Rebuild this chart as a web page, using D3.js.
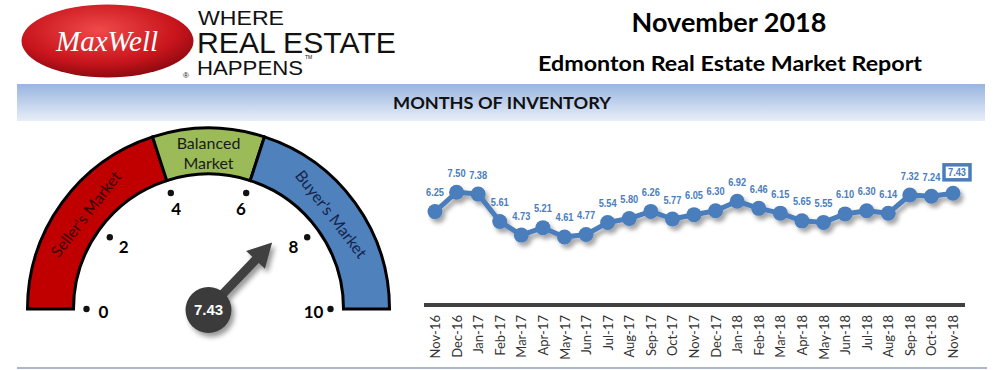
<!DOCTYPE html>
<html><head><meta charset="utf-8">
<script src="https://cdn.jsdelivr.net/npm/d3@7"></script>
<style>
html,body{margin:0;padding:0;background:#fff;}
svg{display:block;}
</style></head>
<body>
<svg id="c" width="1006" height="370"></svg>
<script>
// ---- data ----
const months = ["Nov-16","Dec-16","Jan-17","Feb-17","Mar-17","Apr-17","May-17","Jun-17","Jul-17","Aug-17","Sep-17","Oct-17","Nov-17","Dec-17","Jan-18","Feb-18","Mar-18","Apr-18","May-18","Jun-18","Jul-18","Aug-18","Sep-18","Oct-18","Nov-18"];
const inventory = [6.25,7.50,7.38,5.61,4.73,5.21,4.61,4.77,5.54,5.80,6.26,5.77,6.05,6.30,6.92,6.46,6.15,5.65,5.55,6.10,6.30,6.14,7.32,7.24,7.43];
const gaugeTicks = [0,2,4,6,8,10];
const zoneNames = ["Seller's Market","Balanced Market","Buyer's Market"];
const zoneStarts = [0,4,6];
const zoneEnds = [4,6,10];
const titleLines = ["November 2018","Edmonton Real Estate Market Report"];
const sectionTitle = "MONTHS OF INVENTORY";

const svg = d3.select("#c");
const defs = svg.append("defs");

// shadows
const sh = defs.append("filter").attr("id","shadow").attr("x","-30%").attr("y","-30%").attr("width","160%").attr("height","160%");
sh.append("feDropShadow").attr("dx",3).attr("dy",4).attr("stdDeviation",2).attr("flood-color","#000").attr("flood-opacity",0.35);
const sh2 = defs.append("filter").attr("id","shadow2").attr("x","-30%").attr("y","-30%").attr("width","160%").attr("height","160%");
sh2.append("feDropShadow").attr("dx",3).attr("dy",4).attr("stdDeviation",2.5).attr("flood-color","#000").attr("flood-opacity",0.4);

// ---- header ----
const lg = defs.append("radialGradient").attr("id","logoG").attr("cx","45%").attr("cy","35%").attr("r","65%");
lg.append("stop").attr("offset","0%").attr("stop-color","#ef4a4a");
lg.append("stop").attr("offset","70%").attr("stop-color","#c8141c");
lg.append("stop").attr("offset","100%").attr("stop-color","#8e0a10");
svg.append("ellipse").attr("cx",107.5).attr("cy",41).attr("rx",86).attr("ry",36.5).attr("fill","url(#logoG)");
svg.append("text").attr("x",107).attr("y",51).attr("text-anchor","middle")
  .attr("font-family","Liberation Serif, serif").attr("font-style","italic").attr("font-size",29)
  .attr("fill","#fff").text("MaxWell");
const tag = svg.append("g").attr("font-family","Liberation Sans, Arial, sans-serif").attr("fill","#111");
tag.append("text").attr("x",198).attr("y",25).attr("font-size",21).attr("textLength",86).attr("lengthAdjust","spacingAndGlyphs").text("WHERE");
tag.append("text").attr("x",197).attr("y",53).attr("font-size",30).attr("textLength",199).attr("lengthAdjust","spacingAndGlyphs").text("REAL ESTATE");
tag.append("text").attr("x",197).attr("y",75).attr("font-size",21).attr("textLength",106).attr("lengthAdjust","spacingAndGlyphs").text("HAPPENS");
tag.append("text").attr("x",183).attr("y",78).attr("font-size",8).text("®");
tag.append("text").attr("x",305).attr("y",59).attr("font-size",5).text("TM");

svg.append("text").attr("x",729).attr("y",32).attr("text-anchor","middle")
  .attr("font-family","Lato, sans-serif").attr("font-weight","bold").attr("font-size",27).attr("fill","#000").text(titleLines[0]);
svg.append("text").attr("x",730).attr("y",71).attr("text-anchor","middle")
  .attr("font-family","Lato, sans-serif").attr("font-weight","bold").attr("font-size",20).attr("fill","#000")
  .attr("textLength",384).attr("lengthAdjust","spacingAndGlyphs").text(titleLines[1]);

// band
const bg = defs.append("linearGradient").attr("id","bandG").attr("x1",0).attr("y1",0).attr("x2",0).attr("y2",1);
bg.append("stop").attr("offset","0%").attr("stop-color","#98b4df");
bg.append("stop").attr("offset","100%").attr("stop-color","#e8eef8");
svg.append("rect").attr("x",17).attr("y",84).attr("width",968).attr("height",37).attr("fill","url(#bandG)");
svg.append("text").attr("x",502).attr("y",109).attr("text-anchor","middle")
  .attr("font-family","Lato, sans-serif").attr("font-weight","bold").attr("font-size",17).attr("fill","#111")
  .attr("textLength",218).attr("lengthAdjust","spacingAndGlyphs").text(sectionTitle);
svg.append("line").attr("x1",17).attr("x2",987).attr("y1",368).attr("y2",368).attr("stroke","#a9b8cf").attr("stroke-width",2);

// ---- gauge ----
const gc = {x:208.5, y:309};
const rIn = 135, rOut = 181;
const ang = d3.scaleLinear().domain([0,10]).range([-Math.PI/2, Math.PI/2]);
const zoneFill = ["#c00000","#9bbb59","#4f81bd"];
const zoneText = ["#3b0000","#1b2a10","#15254a"];
const g = svg.append("g").attr("transform",`translate(${gc.x},${gc.y})`);
const arc = d3.arc().innerRadius(rIn).outerRadius(rOut);
zoneNames.forEach((n,i)=>{
  g.append("path").attr("d",arc({startAngle:ang(zoneStarts[i]),endAngle:ang(zoneEnds[i])}))
   .attr("fill",zoneFill[i]).attr("stroke","#000").attr("stroke-width",3).attr("stroke-linejoin","miter");
});
// zone labels
[0,2].forEach(i=>{
  const mid = (zoneStarts[i]+zoneEnds[i])/2;
  const a = ang(mid) + (i===0? 0.03:-0.03);
  const rm = 155;
  const deg = a*180/Math.PI;
  g.append("text").attr("transform",`translate(${rm*Math.sin(a)},${-rm*Math.cos(a)}) rotate(${deg})`)
   .attr("text-anchor","middle").attr("dy","0.35em")
   .attr("font-family","Lato, sans-serif").attr("font-size",16).attr("fill",zoneText[i]).text(zoneNames[i]);
});
const bw = zoneNames[1].split(" ");
g.append("text").attr("x",0).attr("y",-166).attr("text-anchor","middle").attr("dy","0.35em")
  .attr("font-family","Lato, sans-serif").attr("font-size",16).attr("fill","#1a1a1a").text(bw[0]);
g.append("text").attr("x",0).attr("y",-146).attr("text-anchor","middle").attr("dy","0.35em")
  .attr("font-family","Lato, sans-serif").attr("font-size",16).attr("fill","#1a1a1a").text(bw[1]);
// ticks
gaugeTicks.forEach(t=>{
  const a = ang(t);
  g.append("circle").attr("cx",122*Math.sin(a)).attr("cy",-122*Math.cos(a)).attr("r",3.2).attr("fill","#111");
  const rl = 105;
  g.append("text").attr("x",rl*Math.sin(a)).attr("y",-rl*Math.cos(a)+ (Math.abs(t-5)===5?3:0)).attr("dy","0.36em")
   .attr("text-anchor","middle").attr("font-family","Lato, sans-serif").attr("font-weight","bold")
   .attr("font-size",17).attr("fill","#000").text(t);
});
// needle
const cur = inventory[inventory.length-1];
const na = ang(cur);
const needle = g.append("g").attr("filter","url(#shadow2)");
const L = 92, hl = 24, hw = 13, sw = 4.5;
const nPath = d3.path();
nPath.moveTo(0,-sw); nPath.lineTo(L-hl,-sw); nPath.lineTo(L-hl,-hw); nPath.lineTo(L,0);
nPath.lineTo(L-hl,hw); nPath.lineTo(L-hl,sw); nPath.lineTo(0,sw); nPath.closePath();
needle.append("path").attr("d",nPath.toString()).attr("fill","#404040")
  .attr("transform",`rotate(${na*180/Math.PI-90})`);
needle.append("circle").attr("cx",0).attr("cy",1).attr("r",23).attr("fill","#3a3a3a");
g.append("text").attr("x",0).attr("y",1).attr("dy","0.36em").attr("text-anchor","middle")
  .attr("font-family","Liberation Sans, Arial, sans-serif").attr("font-weight","bold").attr("font-size",15)
  .attr("fill","#fff").text(cur.toFixed(2));

// ---- line chart ----
const x = d3.scalePoint().domain(months).range([435, 953]);
const y = d3.scaleLinear().domain([4,8]).range([246.4, 184.5]);
const lineCol = "#4a7dbc";
// axis
const xAxis = d3.axisBottom(x).tickSize(0).tickPadding(0);
const ax = svg.append("g").attr("transform","translate(0,305)").call(xAxis);
ax.select(".domain").remove();
ax.append("line").attr("x1",424).attr("x2",965).attr("y1",0).attr("y2",0).attr("stroke","#404040").attr("stroke-width",4);
ax.selectAll(".tick text")
  .attr("transform","rotate(-90)").attr("text-anchor","end").attr("x",-10).attr("y",0).attr("dy","0.35em")
  .attr("font-family","Lato, sans-serif").attr("font-size",13).attr("fill","#333");

const lg2 = svg.append("g").attr("filter","url(#shadow)");
const line = d3.line().x((d,i)=>x(months[i])).y(d=>y(d));
lg2.append("path").attr("d",line(inventory)).attr("fill","none").attr("stroke",lineCol).attr("stroke-width",5).attr("stroke-linejoin","round");
lg2.selectAll("circle").data(inventory).join("circle")
  .attr("cx",(d,i)=>x(months[i])).attr("cy",d=>y(d)).attr("r",7.5).attr("fill",lineCol);

const last = inventory.length-1;
svg.append("g").selectAll("text").data(inventory).join("text")
  .attr("x",(d,i)=>x(months[i]) + (i===last?4:0)).attr("y",(d,i)=>y(d)-(i===last?17:15.5))
  .attr("text-anchor","middle")
  .attr("font-family","Liberation Sans, Arial, sans-serif").attr("font-weight","bold")
  .attr("font-size",11.5).attr("textLength",18).attr("lengthAdjust","spacingAndGlyphs")
  .attr("fill",lineCol).text(d=>d.toFixed(2))
  .each(function(d,i){
    if(i===last){
      const b = this.getBBox();
      d3.select(this.parentNode).insert("rect","text")
        .attr("x",b.x-4).attr("y",b.y-1.5).attr("width",b.width+8).attr("height",b.height+3)
        .attr("fill","#fff").attr("stroke",lineCol).attr("stroke-width",3.5);
    }
  });
</script>
</body></html>
